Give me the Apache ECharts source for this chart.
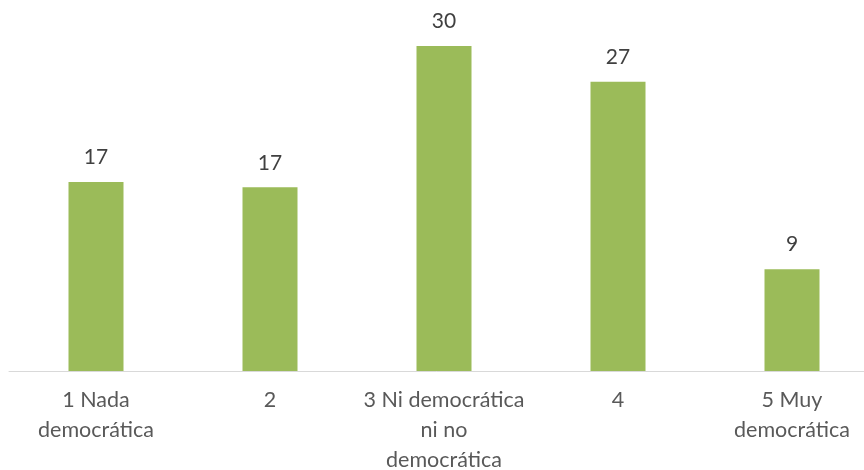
<!DOCTYPE html>
<html>
<head>
<meta charset="utf-8">
<title>Grado de democracia</title>
<script src="https://cdn.jsdelivr.net/npm/echarts@6/dist/echarts.min.js"></script>
<style>
  html, body { margin: 0; padding: 0; background: #ffffff; overflow: hidden; }
  #chart { width: 864px; height: 470px; }
</style>
</head>
<body>
<div id="chart"></div>
<script>
// Ratings on a 1-5 scale, share of respondents (%)
const categories = [
  '1 Nada\ndemocrática',
  '2',
  '3 Ni democrática\nni no\ndemocrática',
  '4',
  '5 Muy\ndemocrática'
];
const values = [17.45, 16.95, 30.0, 26.7, 9.4];

const FONT = 'Lato, "Open Sans", sans-serif';

const chart = echarts.init(document.getElementById('chart'), null, { renderer: 'canvas' });

chart.setOption({
  animation: false,
  backgroundColor: '#ffffff',
  grid: {
    left: 9, width: 870, top: 24.3, bottom: 99,
    containLabel: false,
    outerBoundsMode: 'none'
  },
  xAxis: {
    type: 'category',
    data: categories,
    axisLine: { show: true, lineStyle: { color: '#d9d9d9', width: 1 } },
    axisTick: { show: false },
    axisLabel: {
      interval: 0,
      margin: 14,
      color: '#595959',
      fontFamily: FONT,
      fontSize: 21.5,
      lineHeight: 30
    }
  },
  yAxis: {
    type: 'value',
    min: 0,
    max: 32,
    show: false,
    splitLine: { show: false }
  },
  series: [{
    type: 'bar',
    data: values,
    barWidth: 55,
    itemStyle: { color: '#9bbb59' },
    label: {
      show: true,
      position: 'top',
      distance: 14,
      color: '#404040',
      fontFamily: FONT,
      fontSize: 21,
      formatter: p => Math.round(p.value)
    }
  }]
});
</script>
</body>
</html>
